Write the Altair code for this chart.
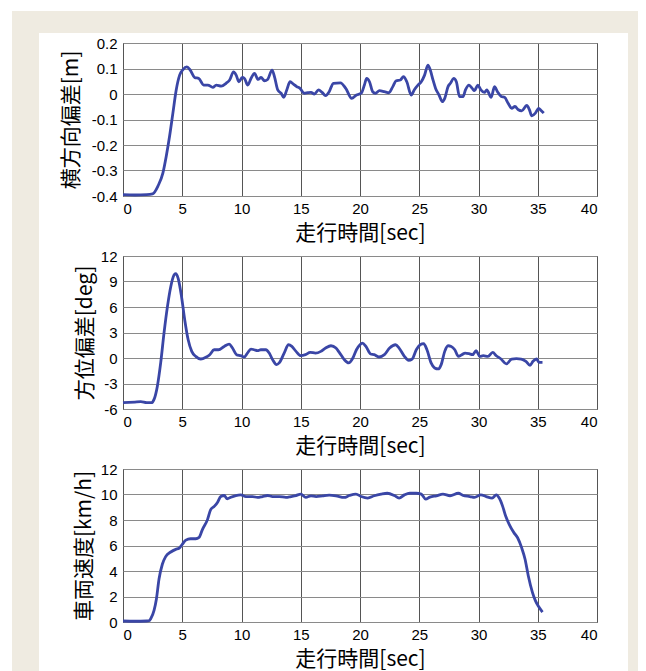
import altair as alt
import pandas as pd

# ---------------- data ----------------
x_ticks = [0, 5, 10, 15, 20, 25, 30, 35, 40]

t_lat = [0, 1, 2, 2.5, 2.95, 3.37, 3.65, 3.93, 4.21, 4.49, 4.78, 5.06, 5.39, 5.67, 6.04, 6.4, 6.8,
         7.16, 7.58, 7.87, 8.29, 8.7, 9.0, 9.33, 9.55, 9.78, 10.06, 10.25, 10.53, 10.8, 11.1, 11.4,
         11.65, 11.94, 12.2, 12.58, 12.78, 13.06, 13.34, 13.57, 13.82, 14.1, 14.38, 14.66, 14.94,
         15.3, 15.6, 15.87, 16.15, 16.5, 16.8, 17.1, 17.4, 17.75, 18.35, 18.8, 19.3, 19.7, 20.1,
         20.37, 20.56, 20.8, 21.07, 21.3, 21.64, 22.06, 22.43, 22.77, 23.05, 23.4, 23.67, 23.95,
         24.32, 24.6, 24.89, 25.17, 25.45, 25.73, 25.93, 26.16, 26.38, 26.67, 26.95, 27.15, 27.43,
         27.63, 27.9, 28.13, 28.4, 28.7, 28.9, 29.2, 29.47, 29.66, 29.94, 30.2, 30.5, 30.7, 31.07,
         31.35, 31.6, 31.92, 32.2, 32.5, 32.8, 33.08, 33.36, 33.64, 34.07, 34.3, 34.5, 34.8, 35.08,
         35.28, 35.5]
lat_dev = [-0.395, -0.396, -0.395, -0.392, -0.361, -0.309, -0.244, -0.166, -0.075, 0.016, 0.074,
           0.096, 0.106, 0.094, 0.065, 0.061, 0.035, 0.035, 0.026, 0.035, 0.031, 0.042, 0.055,
           0.087, 0.074, 0.048, 0.065, 0.061, 0.035, 0.061, 0.081, 0.057, 0.065, 0.052, 0.057,
           0.094, 0.068, 0.016, 0.003, -0.013, 0.016, 0.048, 0.039, 0.029, 0.022, 0.003, 0.005,
           0.006, 0.0, 0.016, 0.006, -0.006, 0.009, 0.042, 0.044, 0.022, -0.017, -0.004, 0.003,
           0.035, 0.061, 0.048, 0.009, 0.003, 0.013, 0.009, 0.005, 0.029, 0.052, 0.055, 0.068,
           0.048, -0.004, 0.018, 0.035, 0.048, 0.074, 0.113, 0.094, 0.055, 0.022, -0.004, -0.030,
           -0.017, 0.029, 0.042, 0.061, 0.048, -0.010, -0.010, 0.016, 0.035, 0.022, 0.013, 0.035,
           0.016, 0.006, 0.016, -0.013, 0.029, 0.009, -0.010, -0.013, -0.036, -0.056, -0.049,
           -0.062, -0.066, -0.045, -0.062, -0.086, -0.075, -0.056, -0.065, -0.075]
lat_ticks = [-0.4, -0.3, -0.2, -0.1, 0, 0.1, 0.2]

t_head = [0, 1.0, 1.5, 2.0, 2.4, 2.62, 2.9, 3.18, 3.46, 3.75, 4.03, 4.3, 4.44, 4.66, 4.94, 5.21,
          5.5, 5.8, 6.14, 6.56, 6.99, 7.32, 7.69, 8.06, 8.54, 8.96, 9.24, 9.58, 9.94, 10.23, 10.5,
          10.8, 11.07, 11.35, 11.63, 12.06, 12.34, 12.62, 12.96, 13.18, 13.6, 13.97, 14.25, 14.6,
          15.0, 15.4, 15.8, 16.25, 16.7, 17.1, 17.55, 17.97, 18.25, 18.67, 19.04, 19.4, 19.7,
          20.0, 20.2, 20.5, 20.9, 21.2, 21.6, 22.06, 22.5, 23.0, 23.3, 23.75, 24.1, 24.4, 24.75,
          25.08, 25.37, 25.65, 26.0, 26.3, 26.6, 26.85, 27.15, 27.43, 27.7, 28.0, 28.3, 28.6,
          28.87, 29.2, 29.5, 29.8, 30.1, 30.4, 30.8, 31.2, 31.5, 31.9, 32.35, 32.8, 33.2, 33.6,
          34.0, 34.35, 34.6, 34.9, 35.1, 35.4]
head_dev = [-5.26, -5.18, -5.14, -5.26, -5.26, -4.87, -3.31, -0.58, 2.92, 6.04, 8.38, 9.74, 9.93,
            9.35, 7.21, 4.48, 2.14, 0.78, 0.19, -0.12, 0.08, 0.39, 0.97, 0.97, 1.36, 1.64, 1.17,
            0.39, 0.27, 0.12, 0.58, 1.05, 0.97, 0.86, 0.97, 0.97, 0.58, -0.19, -0.78, -0.58, 0.58,
            1.56, 1.36, 0.78, 0.27, 0.39, 0.66, 0.58, 0.78, 1.17, 1.44, 1.17, 0.66, -0.19, -0.58,
            0.0, 0.97, 1.56, 1.75, 1.36, 0.47, 0.39, 0.12, 0.39, 1.17, 1.56, 1.17, 0.19, -0.27,
            -0.12, 0.97, 1.56, 1.68, 0.97, -0.58, -1.17, -1.29, -0.78, 0.78, 1.44, 1.36, 0.97,
            0.19, 0.39, 0.58, 0.51, 0.39, 0.86, 0.19, 0.27, 0.19, 0.66, 0.27, -0.12, -0.70, -0.12,
            -0.08, -0.12, -0.39, -0.86, -0.39, -0.12, -0.51, -0.51]
head_ticks = [-6, -3, 0, 3, 6, 9, 12]

t_spd = [0, 1, 2, 2.2, 2.34, 2.62, 2.82, 3.04, 3.32, 3.6, 4.03, 4.45, 4.73, 5.0, 5.3, 5.7, 6.14,
         6.42, 6.7, 7.13, 7.4, 7.7, 7.97, 8.25, 8.54, 8.8, 9.1, 9.52, 9.94, 10.37, 10.93, 11.35,
         11.77, 12.2, 12.62, 13.18, 13.75, 14.17, 14.6, 15.0, 15.43, 15.86, 16.3, 16.85, 17.4,
         17.97, 18.67, 19.1, 19.66, 20.1, 20.65, 21.2, 21.78, 22.3, 22.9, 23.3, 23.75, 24.2,
         24.75, 25.17, 25.54, 25.9, 26.45, 27.0, 27.6, 28.3, 28.7, 29.27, 29.66, 30.2, 30.65,
         31.15, 31.5, 31.75, 32.04, 32.3, 32.6, 33.0, 33.3, 33.64, 33.93, 34.2, 34.55, 34.8,
         35.1, 35.4]
speed = [0.08, 0.06, 0.08, 0.1, 0.26, 0.91, 1.81, 3.37, 4.53, 5.13, 5.49, 5.70, 5.78, 6.09, 6.42,
         6.53, 6.53, 6.63, 7.25, 8.03, 8.81, 9.07, 9.38, 9.84, 9.92, 9.66, 9.79, 9.92, 9.97, 9.84,
         9.84, 9.77, 9.84, 9.92, 9.84, 9.84, 9.77, 9.84, 9.92, 10.03, 9.77, 9.90, 9.84, 9.90,
         9.95, 9.90, 9.77, 9.92, 10.03, 9.84, 9.72, 9.90, 10.03, 10.10, 9.92, 9.72, 9.97, 10.10,
         10.10, 10.03, 9.64, 9.79, 9.90, 10.03, 9.90, 10.10, 9.92, 9.84, 9.77, 9.97, 9.84, 9.72,
         9.97, 9.72, 9.07, 8.29, 7.64, 6.99, 6.61, 5.83, 4.92, 3.63, 2.33, 1.68, 1.17, 0.78]
spd_ticks = [0, 2, 4, 6, 8, 10, 12]

x_title = "走行時間[sec]"
titles = ["横方向偏差[m]", "方位偏差[deg]", "車両速度[km/h]"]

# ---------------- style ----------------
CJK = "Noto Sans CJK JP"
NUM = "Liberation Sans"
LINE = "#3a46a6"
BEIGE = "#efebe1"
W, H = 474, 153


def panel(t, v, ticks, ytitle, tpad):
    df = pd.DataFrame({"t": t, "v": v})
    return alt.Chart(df).mark_line(
        color=LINE, strokeWidth=2.8, interpolate="monotone"
    ).encode(
        x=alt.X("t:Q", scale=alt.Scale(domain=[0, 40], nice=False, zero=False),
                axis=alt.Axis(values=x_ticks, title=x_title, gridColor="#555555",
                              labelExpr="datum.value + ''", labelPadding=5, titlePadding=6)),
        y=alt.Y("v:Q", scale=alt.Scale(domain=[ticks[0], ticks[-1]], nice=False, zero=False),
                axis=alt.Axis(values=ticks, title=ytitle, titlePadding=tpad, labelPadding=6,
                              gridColor="#8a8a8a", labelExpr="datum.value + ''")),
    ).properties(width=W, height=H,
                 view=alt.ViewBackground(stroke="#333333", strokeWidth=1, strokeOpacity=1))


c1 = panel(t_lat, lat_dev, lat_ticks, titles[0], 10)
c2 = panel(t_head, head_dev, head_ticks, titles[1], 5)
c3 = panel(t_spd, speed, spd_ticks, titles[2], 6)

one = pd.DataFrame({"k": [1]})
bg = alt.layer(
    alt.Chart(one).mark_rect(color=BEIGE).encode(
        x=alt.value(-111), x2=alt.value(515), y=alt.value(-22), y2=alt.value(638)),
    alt.Chart(one).mark_rect(color="white").encode(
        x=alt.value(-84), x2=alt.value(505), y=alt.value(0), y2=alt.value(638)),
).properties(width=W, height=1)

plots = alt.vconcat(c1, c2, c3, spacing=60, bounds="flush")

chart = alt.vconcat(bg, plots, spacing=9, bounds="flush").properties(
    padding={"left": 4, "top": 3, "right": 0, "bottom": 0}
).configure(
    background="white"
).configure_view(
    strokeOpacity=0
).configure_axis(
    labelFont=NUM, labelFontSize=15, labelColor="black",
    ticks=False, domain=False, grid=True, gridWidth=1, gridOpacity=1,
    titleFont=CJK, titleFontSize=21, titleFontWeight="normal", titleColor="black",
)

chart.save("out.html", embed_options={"renderer": "svg", "actions": False})
